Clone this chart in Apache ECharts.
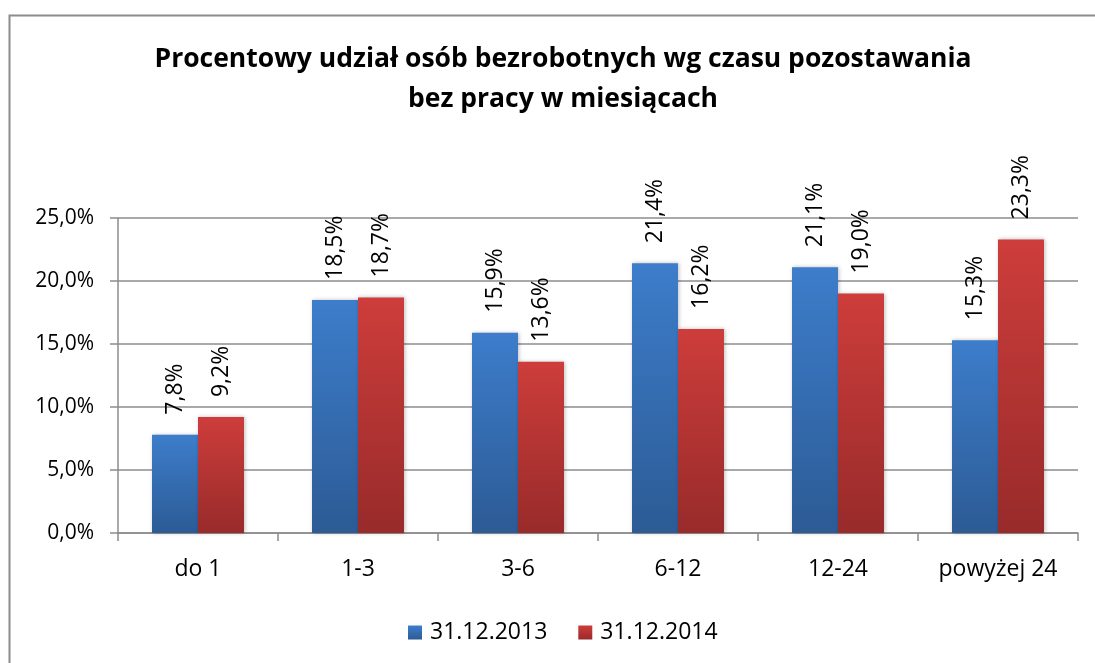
<!DOCTYPE html>
<html>
<head>
<meta charset="utf-8">
<script src="https://cdn.jsdelivr.net/npm/echarts@6/dist/echarts.min.js"></script>
<style>
  html, body { margin: 0; padding: 0; background: #fff; }
  #chart { width: 1095px; height: 663px; }
</style>
</head>
<body>
<div id="chart"></div>
<script>
var categories = ["do 1", "1-3", "3-6", "6-12", "12-24", "powyżej 24"];
var seriesNames = ["31.12.2013", "31.12.2014"];
var values2013 = [7.8, 18.5, 15.9, 21.4, 21.1, 15.3];
var values2014 = [9.2, 18.7, 13.6, 16.2, 19.0, 23.3];
var yTicks = [0, 5, 10, 15, 20, 25];

var font = "'Open Sans', 'Noto Sans', sans-serif";

function pct(v) {
  return v.toFixed(1).replace(".", ",") + "%";
}

function grad(top, bottom) {
  return new echarts.graphic.LinearGradient(0, 0, 0, 1, [
    { offset: 0, color: top },
    { offset: 1, color: bottom }
  ]);
}

var barLabel = {
  show: true,
  position: "top",
  rotate: 90,
  align: "left",
  verticalAlign: "middle",
  distance: 20,
  fontFamily: font,
  fontSize: 23,
  color: "#000",
  formatter: function (p) { return pct(p.value); }
};

var myChart = echarts.init(document.getElementById("chart"));
var option = {
  animation: false,
  backgroundColor: "#fff",
  title: {
    text: "Procentowy udział osób bezrobotnych wg czasu pozostawania\nbez pracy w miesiącach",
    left: 558,
    top: 34,
    textAlign: "center",
    textStyle: {
      fontFamily: font,
      fontWeight: "bold",
      fontSize: 26.5,
      lineHeight: 40,
      color: "#000"
    }
  },
  legend: {
    data: seriesNames,
    bottom: 14,
    left: 403,
    itemWidth: 14,
    itemHeight: 14,
    itemGap: 31,
    icon: "rect",
    textStyle: { fontFamily: font, fontSize: 23, color: "#000", padding: [0, 0, 0, 3] }
  },
  grid: { left: 118, right: 17, top: 218, bottom: 130, containLabel: false },
  xAxis: {
    type: "category",
    data: categories,
    axisLine: { lineStyle: { color: "#8c8c8c", width: 1.5 } },
    axisTick: { show: true, length: 8, lineStyle: { color: "#8c8c8c", width: 1.5 } },
    axisLabel: { fontFamily: font, fontSize: 23, color: "#000", margin: 25 }
  },
  yAxis: {
    type: "value",
    min: yTicks[0],
    max: yTicks[yTicks.length - 1],
    interval: 5,
    axisLine: { show: true, lineStyle: { color: "#8c8c8c", width: 1.5 } },
    axisTick: { show: true, length: 8, lineStyle: { color: "#8c8c8c", width: 1.5 } },
    splitLine: { lineStyle: { color: "#8c8c8c", width: 1.5 } },
    axisLabel: {
      fontFamily: font,
      fontSize: 21,
      color: "#000",
      margin: 24,
      formatter: function (v) { return pct(v); }
    }
  },
  series: [
    {
      name: seriesNames[0],
      type: "bar",
      data: values2013,
      barWidth: 46,
      barGap: "0%",
      itemStyle: {
        color: grad("#3d7dcb", "#2c5b95"),
        shadowColor: "rgba(0,0,0,0.25)",
        shadowBlur: 4,
        shadowOffsetX: 1
      },
      label: barLabel
    },
    {
      name: seriesNames[1],
      type: "bar",
      data: values2014,
      barWidth: 46,
      itemStyle: {
        color: grad("#cd3d3b", "#982b2a"),
        shadowColor: "rgba(0,0,0,0.25)",
        shadowBlur: 4,
        shadowOffsetX: 1
      },
      label: barLabel
    }
  ],
  graphic: [
    {
      type: "polyline",
      shape: { points: [[9.5, 663], [9.5, 15.5], [1095, 15.5]] },
      style: { stroke: "#8c8c8c", lineWidth: 2, fill: null },
      silent: true
    }
  ]
};
myChart.setOption(option, true);
</script>
</body>
</html>
